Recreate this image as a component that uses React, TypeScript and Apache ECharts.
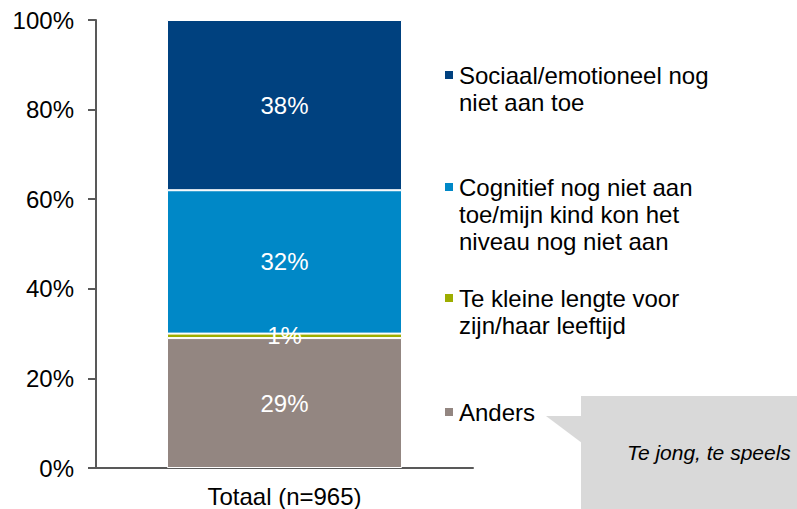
import React, { useEffect, useRef } from "react";
import * as echarts from "echarts";

const categories = ["Totaal (n=965)"];
const seriesNames = [
  "Anders",
  "Te kleine lengte voor\nzijn/haar leeftijd",
  "Cognitief nog niet aan\ntoe/mijn kind kon het\nniveau nog niet aan",
  "Sociaal/emotioneel nog\nniet aan toe",
];
const seriesValues = [[29], [1], [32], [38]];
const seriesColors = ["#938681", "#9DAD00", "#0088C7", "#00417F"];
const yTicks = [0, 20, 40, 60, 80, 100];
const calloutText = "Te jong, te speels";

const FONT = "'Liberation Sans', Arial, sans-serif";
const LINE_H = 27;

export default function App() {
  const ref = useRef<HTMLDivElement>(null);
  useEffect(() => {
    document.body.style.margin = "0";
    const chart = echarts.init(ref.current!, undefined, { renderer: "svg" });

    // legend: icon aligned with first text line; one legend per item
    const legendCenters: Record<string, number> = {
      [seriesNames[3]]: 75,
      [seriesNames[2]]: 187,
      [seriesNames[1]]: 298,
      [seriesNames[0]]: 412,
    };
    const legends = seriesNames.map((name) => {
      const n = name.split("\n").length;
      const top = legendCenters[name] - ((2 * n - 1) * LINE_H) / 2;
      return {
        show: true,
        orient: "vertical",
        left: 443,
        top,
        padding: 0,
        itemWidth: 10,
        itemHeight: 10,
        icon: "rect",
        selectedMode: false,
        data: [name],
        formatter: (nm: string) => "\n".repeat(nm.split("\n").length - 1) + nm,
        textStyle: {
          fontFamily: FONT,
          fontSize: 24,
          lineHeight: LINE_H,
          color: "#000",
        },
      };
    });

    chart.setOption({
      animation: false,
      grid: { left: 96, right: 324, top: 20, bottom: 41, containLabel: false },
      legend: legends,
      xAxis: {
        type: "category",
        data: categories,
        axisLine: { show: true, lineStyle: { color: "#595959", width: 2 } },
        axisTick: { show: false },
        axisLabel: { color: "#000", fontFamily: FONT, fontSize: 24, margin: 16 },
      },
      yAxis: {
        type: "value",
        min: yTicks[0],
        max: yTicks[yTicks.length - 1],
        interval: yTicks[1] - yTicks[0],
        axisLine: { show: true, lineStyle: { color: "#595959", width: 2 } },
        axisTick: { show: true, length: 8, lineStyle: { color: "#595959", width: 2 } },
        splitLine: { show: false },
        axisLabel: {
          color: "#000",
          fontFamily: FONT,
          fontSize: 24,
          margin: 22,
          formatter: "{value}%",
        },
      },
      series: seriesNames.map((name, i) => ({
        name,
        type: "bar",
        stack: "total",
        barWidth: 235,
        data: seriesValues[i],
        itemStyle: { color: seriesColors[i], borderColor: "#fff", borderWidth: 1 },
        label: {
          show: true,
          position: "inside",
          color: "#fff",
          fontFamily: FONT,
          fontSize: 24,
          formatter: "{c}%",
        },
      })),
      graphic: [
        {
          type: "rect",
          shape: { x: 581, y: 396, width: 220, height: 120 },
          style: { fill: "#D9D9D9" },
          silent: true,
        },
        {
          type: "polygon",
          shape: { points: [[546, 416], [582, 416], [582, 443]] },
          style: { fill: "#D9D9D9" },
          silent: true,
        },
        {
          type: "text",
          x: 627,
          y: 452,
          style: {
            text: calloutText,
            fontFamily: FONT,
            fontSize: 21,
            fontStyle: "italic",
            fill: "#000",
            align: "left",
            verticalAlign: "middle",
          },
          silent: true,
        },
      ],
    });
    return () => chart.dispose();
  }, []);
  return <div ref={ref} style={{ width: 797, height: 509 }} />;
}
